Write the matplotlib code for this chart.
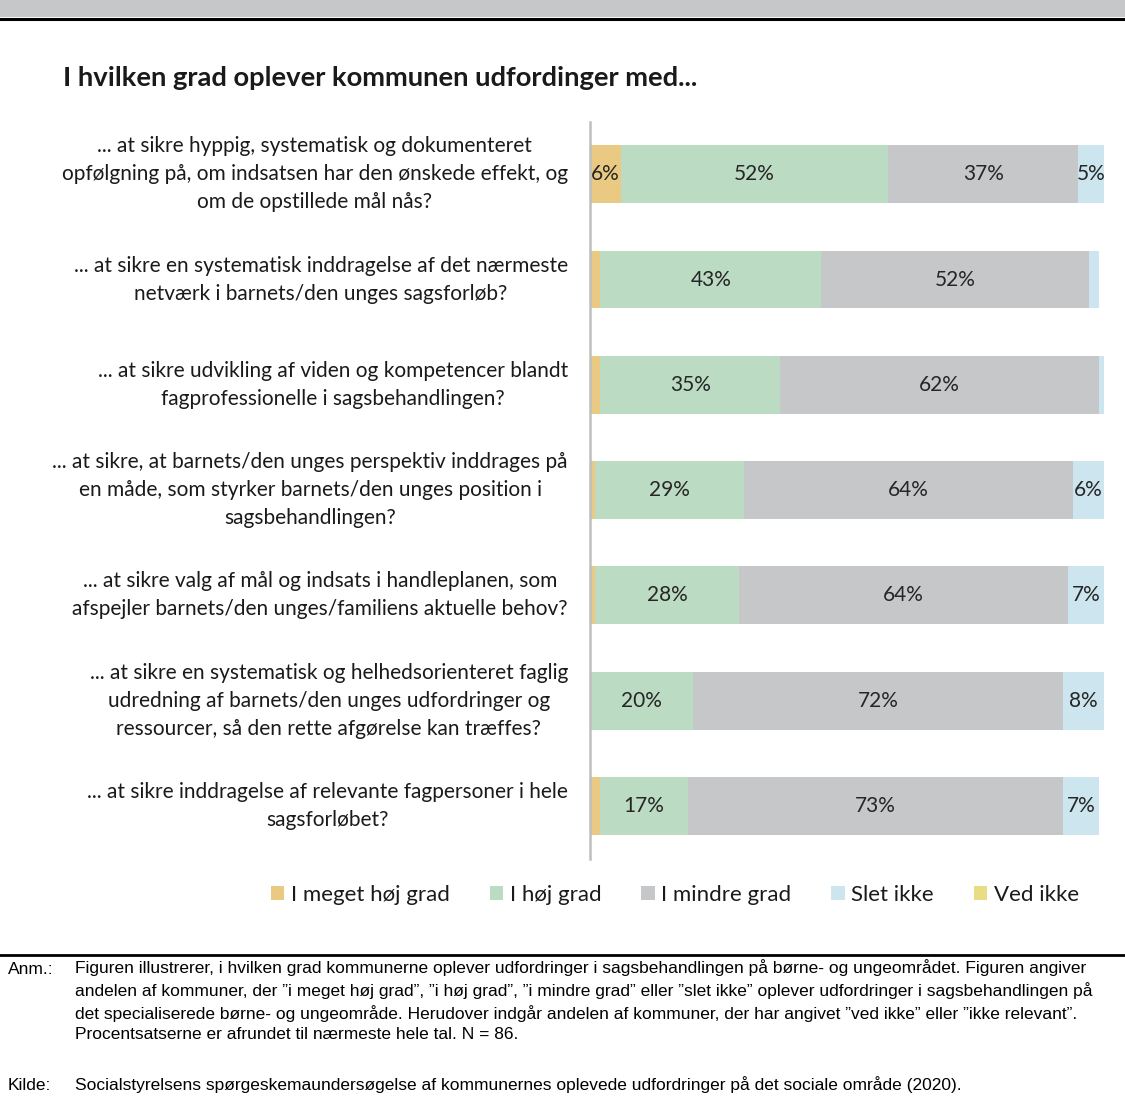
import numpy as np
import matplotlib.pyplot as plt
from matplotlib.patches import Patch, Rectangle
from matplotlib.lines import Line2D

plt.rcParams['font.family'] = ['Lato', 'DejaVu Sans']

title = "I hvilken grad oplever kommunen udfordinger med..."

questions = [
    "... at sikre hyppig, systematisk og dokumenteret\nopfølgning på, om indsatsen har den ønskede effekt, og\nom de opstillede mål nås?",
    "... at sikre en systematisk inddragelse af det nærmeste\nnetværk i barnets/den unges sagsforløb?",
    "... at sikre udvikling af viden og kompetencer blandt\nfagprofessionelle i sagsbehandlingen?",
    "... at sikre, at barnets/den unges perspektiv inddrages på\nen måde, som styrker barnets/den unges position i\nsagsbehandlingen?",
    "... at sikre valg af mål og indsats i handleplanen, som\nafspejler barnets/den unges/familiens aktuelle behov?",
    "... at sikre en systematisk og helhedsorienteret faglig\nudredning af barnets/den unges udfordringer og\nressourcer, så den rette afgørelse kan træffes?",
    "... at sikre inddragelse af relevante fagpersoner i hele\nsagsforløbet?",
]

series = ["I meget høj grad", "I høj grad", "I mindre grad", "Slet ikke", "Ved ikke"]
meget_hoej = [6, 2, 2, 1, 1, 0, 2]
hoej = [52, 43, 35, 29, 28, 20, 17]
mindre = [37, 52, 62, 64, 64, 72, 73]
slet_ikke = [5, 2, 1, 6, 7, 8, 7]
ved_ikke = [0, 0, 0, 0, 0, 0, 0]

colors = ["#EAC983", "#BCDBC3", "#C6C7C9", "#CDE5EE", "#E8DD84"]

W, H = 1125, 1116
fig = plt.figure(figsize=(W / 100, H / 100), dpi=100)

# top banner and rules
fig.add_artist(Rectangle((0, 1 - 17 / H), 1, 17 / H, transform=fig.transFigure,
                         facecolor="#C6C7C9", edgecolor="none"))
fig.add_artist(Line2D([0, 1], [1 - 18.5 / H] * 2, transform=fig.transFigure,
                      color="black", lw=2.2))
fig.add_artist(Line2D([0, 1], [1 - 955 / H] * 2, transform=fig.transFigure,
                      color="black", lw=2.0))

fig.text(63 / W, 1 - 78 / H, title, fontsize=19.7, fontweight="bold",
         color="#1a1a1a", va="center", ha="left")

ax = fig.add_axes([590 / W, 1 - 858.6 / H, 514 / W, 737 / H])
y = np.arange(len(questions))
data = [meget_hoej, hoej, mindre, slet_ikke, ved_ikke]
left = np.zeros(len(questions))
for name, vals, col in zip(series, data, colors):
    vals = np.array(vals, dtype=float)
    bars = ax.barh(y, vals, left=left, height=0.55, color=col, label=name)
    for b, v in zip(bars, vals):
        if v >= 4:
            ax.text(b.get_x() + b.get_width() / 2, b.get_y() + b.get_height() / 2,
                    f"{round(v)}%", ha="center", va="center", fontsize=15,
                    color="#262626")
    left += vals

ax.set_xlim(0, 100)
ax.set_ylim(len(questions) - 0.5, -0.5)
ax.set_xticks([])
ax.set_yticks([])
for s in ["top", "right", "bottom"]:
    ax.spines[s].set_visible(False)
ax.spines["left"].set_color("#BFBFBF")
ax.spines["left"].set_linewidth(1.8)

for i, q in enumerate(questions):
    ax.text(-0.043, i, q, transform=ax.get_yaxis_transform(), ha="right",
            va="center", multialignment="center", fontsize=15,
            color="#1a1a1a", linespacing=1.5)

handles = [Patch(facecolor=c, edgecolor="none") for c in colors]
fig.legend(handles, series, loc="center", bbox_to_anchor=(675 / W, 1 - 895 / H),
           ncol=5, frameon=False, fontsize=16, handlelength=0.6,
           handleheight=0.6, handletextpad=0.3, columnspacing=1.8,
           labelcolor="#1a1a1a")

# notes
foot = ['Liberation Sans Narrow', 'Liberation Sans', 'DejaVu Sans']
anm = ("Figuren illustrerer, i hvilken grad kommunerne oplever udfordringer i sagsbehandlingen på børne- og ungeområdet. Figuren angiver\n"
       "andelen af kommuner, der \u201di meget høj grad\u201d, \u201di høj grad\u201d, \u201di mindre grad\u201d eller \u201dslet ikke\u201d oplever udfordringer i sagsbehandlingen på\n"
       "det specialiserede børne- og ungeområde. Herudover indgår andelen af kommuner, der har angivet \u201dved ikke\u201d eller \u201dikke relevant\u201d.\n"
       "Procentsatserne er afrundet til nærmeste hele tal. N = 86.")
kilde = "Socialstyrelsens spørgeskemaundersøgelse af kommunernes oplevede udfordringer på det sociale område (2020)."
fig.text(8 / W, 1 - 969 / H, "Anm.:", family=foot, fontsize=12.5, va="center", ha="left")
fig.text(75 / W, 1 - 959 / H, anm, family=foot, fontsize=12.5, va="top", ha="left",
         linespacing=1.42)
fig.text(8 / W, 1 - 1085 / H, "Kilde:", family=foot, fontsize=12.5, va="center", ha="left")
fig.text(75 / W, 1 - 1085 / H, kilde, family=foot, fontsize=12.5, va="center", ha="left")

fig.savefig("out.png", dpi=100)
